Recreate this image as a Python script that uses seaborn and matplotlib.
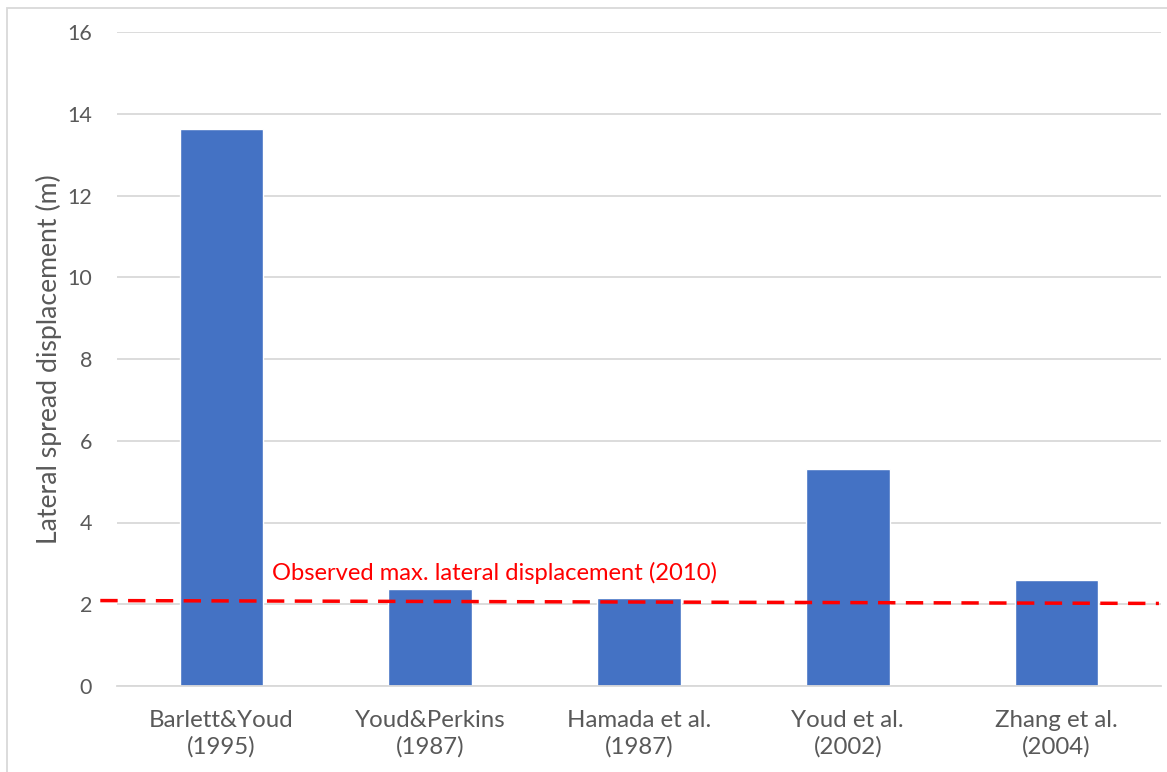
import matplotlib
matplotlib.use("Agg")
import matplotlib.pyplot as plt
import seaborn as sns
import pandas as pd
from matplotlib.patches import Rectangle

# Predicted lateral spread displacement by empirical model
models = ["Barlett&Youd\n(1995)", "Youd&Perkins\n(1987)", "Hamada et al.\n(1987)",
          "Youd et al.\n(2002)", "Zhang et al.\n(2004)"]
displacement = [13.62, 2.37, 2.15, 5.31, 2.60]

# Observed maximum displacement line (start / end levels)
observed_line = [2.09, 2.02]
observed_label = "Observed max. lateral displacement (2010)"

y_ticks = [0, 2, 4, 6, 8, 10, 12, 14, 16]

sns.set_theme(style="white")
plt.rcParams["font.family"] = ["Lato", "DejaVu Sans"]

df = pd.DataFrame({"model": models, "displacement": displacement})

fig = plt.figure(figsize=(11.67, 7.72), dpi=100)
ax = fig.add_axes([117 / 1167, 1 - 686 / 772, (1161 - 117) / 1167, (686 - 32) / 772])

ax.set_axisbelow(True)
ax.yaxis.grid(True, color="#d9d9d9", linewidth=1.3)
sns.barplot(data=df, x="model", y="displacement", color="#4472c4", saturation=1,
            width=0.40, ax=ax)

ax.set_xlim(-0.5, len(models) - 0.5)
ax.set_ylim(0, 16)
ax.set_yticks(y_ticks)
for s in ["top", "right", "left"]:
    ax.spines[s].set_visible(False)
ax.spines["bottom"].set_color("#d9d9d9")
ax.spines["bottom"].set_linewidth(1.3)
ax.tick_params(axis="both", length=0, colors="#595959")
ax.tick_params(axis="y", pad=18, labelsize=15.5)
ax.tick_params(axis="x", pad=17.5, labelsize=17.3)
for lbl in ax.get_xticklabels():
    lbl.set_linespacing(1.3)
ax.set_xlabel("")
ax.set_ylabel("Lateral spread displacement (m)", fontsize=19.2, color="#595959", labelpad=4)

# Dashed observed-displacement reference line, extending slightly past the plot edge
ax.plot([-0.58, 4.49], observed_line, linestyle=(0, (5, 3)), color="#ff0000",
        linewidth=2.5, clip_on=False, zorder=5)
ax.text(0.242, 2.76, observed_label, color="#ff0000", fontsize=17.1, ha="left", va="center")

# Light chart border
fig.patches.append(Rectangle((7 / 1167, -0.1), 1.2, 1.1 - 8 / 772, transform=fig.transFigure,
                             fill=False, edgecolor="#d9d9d9", linewidth=1.3))

fig.savefig("out.png", dpi=100)
